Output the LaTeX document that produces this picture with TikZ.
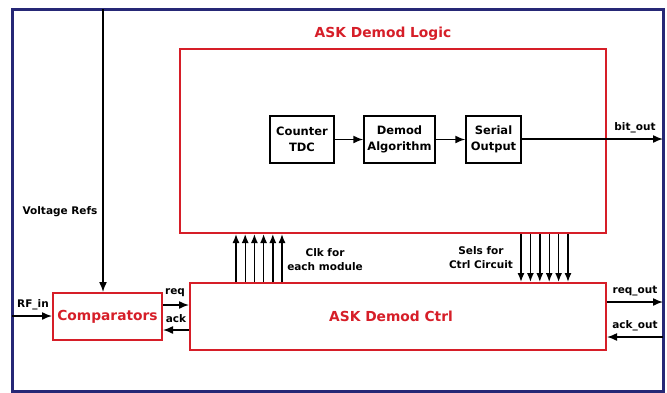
\documentclass[tikz,border=0pt]{standalone}
\usepackage{fontspec}
\setmainfont{DejaVu Sans}
\usetikzlibrary{arrows.meta,calc}
\definecolor{askred}{RGB}{214,30,40}
\definecolor{navy}{RGB}{38,40,118}
\tikzset{
  lbl/.style={font=\bfseries\fontsize{10.5}{14}\selectfont, inner sep=0pt, align=center},
  big/.style={font=\bfseries\fontsize{13.8}{16}\selectfont, text=askred, inner sep=0pt},
  redbox/.style={draw=askred, line width=2pt, inner sep=0pt},
  blkbox/.style={draw=black, line width=1.5pt, inner sep=0pt, align=center, font=\bfseries\fontsize{11.5}{16}\selectfont},
  arr/.style={draw=black, line width=1.5pt, -{Latex[length=10pt,width=8pt]}},
  bus/.style={draw=black, line width=1.4pt, -{Latex[length=9pt,width=7pt]}},
}
\begin{document}
\begin{tikzpicture}[x=1pt,y=-1pt]
\useasboundingbox (0,0) rectangle (667,392);
% outer frame
\draw[navy, line width=3pt] (12,9) rectangle (663,391);
\coordinate (vtop) at (103,9);
\coordinate (rfin) at (12,316);
\coordinate (bitend) at (663,139);
\coordinate (reqend) at (663,302);
\coordinate (ackstart) at (663,337);

% boxes
\node[redbox, minimum width=426pt, minimum height=184pt] (logic) at (393,141) {};
\node[big] (logictitle) at (383,34) {ASK Demod Logic};
\node[redbox, minimum width=109pt, minimum height=47pt] (comp) at (107.5,316.5) {};
\node[big] (comptext) at (107.5,316.5) {Comparators};
\node[redbox, minimum width=416pt, minimum height=67pt] (ctrl) at (398,316.5) {};
\node[big] (ctrltext) at (391,316.5) {ASK Demod Ctrl};

\node[blkbox, minimum width=64pt, minimum height=47pt] (tdc) at (302,139.5) {Counter\\TDC};
\node[blkbox, minimum width=71pt, minimum height=47pt] (alg) at (399.5,139.5) {Demod\\Algorithm};
\node[blkbox, minimum width=55pt, minimum height=47pt] (ser) at (493.5,139.5) {Serial\\Output};

% labels
\node[lbl] (lvref) at (60,212) {Voltage Refs};
\node[lbl] (lrf) at (33,305) {RF\_in};
\node[lbl] (lreq) at (175,293) {req};
\node[lbl] (lack) at (176,319) {ack};
\node[lbl] (lclk) at (325,260) {Clk for\\each module};
\node[lbl] (lsel) at (481,258) {Sels for\\Ctrl Circuit};
\node[lbl] (lbit) at (635,128) {bit\_out};
\node[lbl] (lreqo) at (635,291) {req\_out};
\node[lbl] (lacko) at (635,326) {ack\_out};

% connectors
\draw[arr] (vtop) -- (vtop |- comp.north);
\draw[arr] (rfin) -- (rfin -| comp.west);
\draw[arr] (tdc) -- (alg);
\draw[arr] (alg) -- (ser);
\draw[arr] (ser.east |- bitend) -- (bitend);
\coordinate (rq) at (0,305);
\coordinate (ak) at (0,330);
\draw[arr] (comp.east |- rq) -- (ctrl.west |- rq);
\draw[arr] (ctrl.west |- ak) -- (comp.east |- ak);
\draw[arr] (ctrl.east |- reqend) -- (reqend);
\draw[arr] (ackstart) -- (ctrl.east |- ackstart);

\foreach \i/\x in {1/236,2/245.2,3/254.4,4/263.6,5/272.8,6/282}{
  \coordinate (ck\i) at (\x,0);
  \draw[bus] (ck\i |- ctrl.north) -- (ck\i |- logic.south);
}
\foreach \i/\x in {1/521,2/530.4,3/539.8,4/549.2,5/558.6,6/568}{
  \coordinate (sl\i) at (\x,0);
  \draw[bus] (sl\i |- logic.south) -- (sl\i |- ctrl.north);
}
\end{tikzpicture}
\end{document}
